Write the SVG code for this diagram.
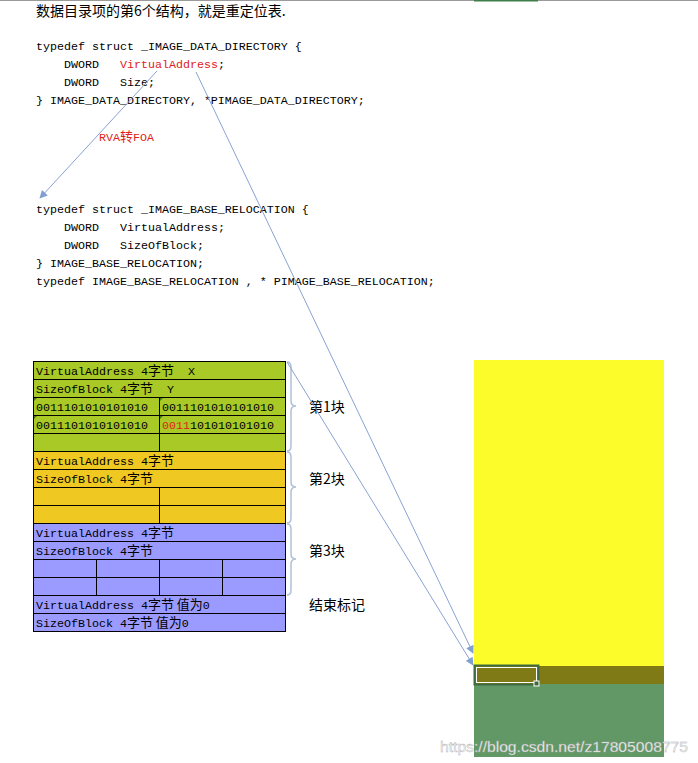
<svg xmlns="http://www.w3.org/2000/svg" width="698" height="763" viewBox="0 0 698 763" xml:space="preserve">
<style>
text{white-space:pre}
.code{font-family:"Liberation Mono","Noto Sans CJK SC",monospace;font-size:11.67px;fill:#000}
.cjk{font-family:"Noto Sans CJK SC",sans-serif;font-size:13px}
.red{fill:#e0221a}
.lbl{font-family:"Noto Sans CJK SC",sans-serif;font-size:14px;fill:#000}
.cell{stroke:#000;stroke-width:1}
.g{fill:#a9c926}.y{fill:#efc822}.p{fill:#9a9aff}
.brace{fill:none;stroke:#b0c0da;stroke-width:1.5}
.conn{fill:none;stroke:#8aa2d2;stroke-width:1}
.mark{fill:#4a7a1a}
</style>
<defs>
<marker id="ah" viewBox="0 0 10 10" refX="9" refY="5" markerWidth="9" markerHeight="8" markerUnits="userSpaceOnUse" orient="auto">
<path d="M0,0 L10,5 L0,10 z" fill="#7f9fd0"/>
</marker>
</defs>
<rect width="698" height="763" fill="#fff"/>
<line x1="0" y1="0.5" x2="698" y2="0.5" stroke="#9a9a9a" stroke-width="1"/>
<rect x="474" y="0" width="64" height="1.5" fill="#3f7f4a"/>
<g id="title"><text x="36" y="16" class="lbl">数据目录项的第6个结构，就是重定位表.</text></g>
<g id="struct1">
<text x="36" y="50" class="code">typedef struct _IMAGE_DATA_DIRECTORY {</text>
<text x="64" y="68" class="code">DWORD   <tspan class="red">VirtualAddress</tspan>;</text>
<text x="64" y="86" class="code">DWORD   Size;</text>
<text x="36" y="104" class="code">} IMAGE_DATA_DIRECTORY, *PIMAGE_DATA_DIRECTORY;</text>
</g>
<g id="rva-label"><text x="99" y="141" class="code red">RVA<tspan class="cjk">转</tspan>FOA</text></g>
<g id="struct2">
<text x="36" y="213" class="code">typedef struct _IMAGE_BASE_RELOCATION {</text>
<text x="64" y="231" class="code">DWORD   VirtualAddress;</text>
<text x="64" y="249" class="code">DWORD   SizeOfBlock;</text>
<text x="36" y="267" class="code">} IMAGE_BASE_RELOCATION;</text>
<text x="36" y="285" class="code">typedef IMAGE_BASE_RELOCATION , * PIMAGE_BASE_RELOCATION;</text>
</g>
<g id="block1">
<rect x="33.5" y="361.5" width="252" height="18" class="cell g"/>
<rect x="33.5" y="379.5" width="252" height="18" class="cell g"/>
<rect x="33.5" y="397.5" width="126" height="18" class="cell g"/>
<rect x="159.5" y="397.5" width="126" height="18" class="cell g"/>
<rect x="33.5" y="415.5" width="126" height="18" class="cell g"/>
<rect x="159.5" y="415.5" width="126" height="18" class="cell g"/>
<rect x="33.5" y="433.5" width="126" height="18" class="cell g"/>
<rect x="159.5" y="433.5" width="126" height="18" class="cell g"/>
<polygon points="34,398 37,398 34,401" class="mark"/>
<polygon points="160,398 163,398 160,401" class="mark"/>
<polygon points="34,416 37,416 34,419" class="mark"/>
<polygon points="160,416 163,416 160,419" class="mark"/>
<text x="36" y="375" class="code">VirtualAddress 4<tspan class="cjk">字节</tspan>  X</text>
<text x="36" y="393" class="code">SizeOfBlock 4<tspan class="cjk">字节</tspan>  Y</text>
<text x="36" y="411" class="code">0011101010101010</text>
<text x="162" y="411" class="code">0011101010101010</text>
<text x="36" y="429" class="code">0011101010101010</text>
<text x="162" y="429" class="code"><tspan class="red">0011</tspan>101010101010</text>
</g>
<g id="block2">
<rect x="33.5" y="451.5" width="252" height="18" class="cell y"/>
<rect x="33.5" y="469.5" width="252" height="18" class="cell y"/>
<rect x="33.5" y="487.5" width="126" height="18" class="cell y"/>
<rect x="159.5" y="487.5" width="126" height="18" class="cell y"/>
<rect x="33.5" y="505.5" width="126" height="18" class="cell y"/>
<rect x="159.5" y="505.5" width="126" height="18" class="cell y"/>
<text x="36" y="465" class="code">VirtualAddress 4<tspan class="cjk">字节</tspan></text>
<text x="36" y="483" class="code">SizeOfBlock 4<tspan class="cjk">字节</tspan></text>
</g>
<g id="block3">
<rect x="33.5" y="523.5" width="252" height="18" class="cell p"/>
<rect x="33.5" y="541.5" width="252" height="18" class="cell p"/>
<rect x="33.5" y="559.5" width="63" height="18" class="cell p"/>
<rect x="96.5" y="559.5" width="63" height="18" class="cell p"/>
<rect x="159.5" y="559.5" width="63" height="18" class="cell p"/>
<rect x="222.5" y="559.5" width="63" height="18" class="cell p"/>
<rect x="33.5" y="577.5" width="63" height="18" class="cell p"/>
<rect x="96.5" y="577.5" width="63" height="18" class="cell p"/>
<rect x="159.5" y="577.5" width="63" height="18" class="cell p"/>
<rect x="222.5" y="577.5" width="63" height="18" class="cell p"/>
<text x="36" y="537" class="code">VirtualAddress 4<tspan class="cjk">字节</tspan></text>
<text x="36" y="555" class="code">SizeOfBlock 4<tspan class="cjk">字节</tspan></text>
</g>
<g id="end-block">
<rect x="33.5" y="595.5" width="252" height="18" class="cell p"/>
<rect x="33.5" y="613.5" width="252" height="18" class="cell p"/>
<text x="36" y="609" class="code">VirtualAddress 4<tspan class="cjk">字节 值为</tspan>0</text>
<text x="36" y="627" class="code">SizeOfBlock 4<tspan class="cjk">字节 值为</tspan>0</text>
</g>
<g id="braces">
<path class="brace" d="M287,362 Q291,362 291,367 L291,401 Q291,406 296,406 Q291,406 291,411 L291,446 Q291,451 287,451"/>
<path class="brace" d="M287,452 Q291,452 291,457 L291,482 Q291,487 296,487 Q291,487 291,492 L291,518 Q291,523 287,523"/>
<path class="brace" d="M287,524 Q291,524 291,529 L291,554 Q291,559 296,559 Q291,559 291,564 L291,590 Q291,595 287,595"/>
<text x="309" y="412" class="lbl">第1块</text>
<text x="309" y="484" class="lbl">第2块</text>
<text x="309" y="556" class="lbl">第3块</text>
<text x="309" y="610" class="lbl">结束标记</text>
</g>
<g id="memory">
<rect x="474" y="360" width="190" height="306" fill="#fcfc2a"/>
<rect x="474" y="666" width="190" height="18" fill="#7f7a15"/>
<rect x="474" y="684" width="190" height="73" fill="#629866"/>
<rect x="474.5" y="665.5" width="64" height="19" fill="none" stroke="#3f6a3f" stroke-width="2"/>
<rect x="476.5" y="667.5" width="60" height="15" fill="none" stroke="#fff" stroke-width="1"/>
<rect x="534" y="681" width="5" height="5" fill="#3f6a3f" stroke="#fff" stroke-width="1"/>
</g>
<g id="connectors">
<line class="conn" x1="157" y1="71" x2="40" y2="198" marker-end="url(#ah)"/>
<line class="conn" x1="196" y1="72" x2="473" y2="653" marker-end="url(#ah)"/>
<line class="conn" x1="287" y1="362" x2="473" y2="665" marker-end="url(#ah)"/>
</g>
<g id="watermark"><text x="440" y="752" font-family="Liberation Sans, Arial, sans-serif" font-size="15" fill="#f4f4f4" stroke="#a8a8a8" stroke-width="0.35" textLength="248" lengthAdjust="spacingAndGlyphs">https://blog.csdn.net/z17805008775</text></g>
</svg>
